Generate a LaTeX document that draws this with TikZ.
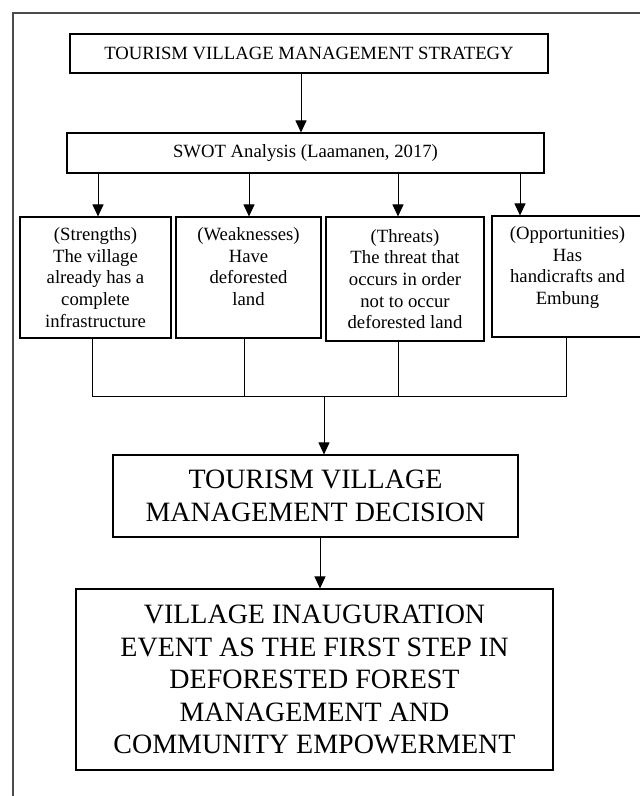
\documentclass[tikz,border=0pt]{standalone}
\usepackage{fontspec}
\setmainfont{Liberation Serif}
\usetikzlibrary{arrows.meta}
\begin{document}
\begin{tikzpicture}
[x=1pt,y=-1pt,
  boxdecorate/.style={shape=rectangle,draw,line width=1.1pt,inner sep=0pt,align=center},
  smalltext/.style={font=\fontsize{18.7}{21.6}\selectfont},
  bigtext/.style={font=\fontsize{28}{32.5}\selectfont},
  linedecorate/.style={-,line width=1pt},
  arrowdecorate/.style={-{Triangle[width=11pt,length=12pt]},line width=1pt}]
\clip (0,0) rectangle (640,796);
%% outer frame
\draw[line width=1.3pt,black!70] (13,800) -- (13,13) -- (645,13);
%% nodes or boxes
\node (strategy) at (309,53.5) [boxdecorate,smalltext,minimum width=478pt,minimum height=39pt]
  {TOURISM VILLAGE MANAGEMENT STRATEGY};
\node (swot) at (305.5,153) [boxdecorate,smalltext,minimum width=477pt,minimum height=40pt]
  {SWOT Analysis (Laamanen, 2017)};
\foreach \nodename/\x/\y/\w/\h/\txt in {
  str/95.5/277.5/151/121/{(Strengths)\\The village\\already has a\\complete\\infrastructure},
  wea/248.5/277.5/145/121/{(Weaknesses)\\Have\\deforested\\land\\~},
  thr/405/279/158/124/{(Threats)\\The threat that\\occurs in order\\not to occur\\deforested land},
  opp/567.5/276.5/151/121/{(Opportunities)\\Has\\handicrafts and\\Embung\\~}} {
  \node (\nodename) at (\x,\y) [boxdecorate,smalltext,minimum width=\w pt,minimum height=\h pt] {\txt};
}
\node (decision) at (315.5,496) [boxdecorate,bigtext,minimum width=405pt,minimum height=82pt]
  {TOURISM VILLAGE\\MANAGEMENT DECISION};
\node (event) at (314.5,679.5) [boxdecorate,bigtext,minimum width=477pt,minimum height=181pt]
  {VILLAGE INAUGURATION\\EVENT AS THE FIRST STEP IN\\DEFORESTED FOREST\\MANAGEMENT AND\\COMMUNITY EMPOWERMENT};
%% arrows or lines
\draw[arrowdecorate] (strategy.south -| 301,0) -- (swot.north -| 301,0);
\foreach \nodename/\x in {str/98, wea/249, thr/398, opp/520} {
  \draw[arrowdecorate] (swot.south -| \x,0) -- (\nodename.north -| \x,0);
}
\coordinate (joinleft) at (92,396);
\coordinate (joinright) at (566,396);
\coordinate (join) at (324,396);
\foreach \nodename/\x in {str/92, wea/244, thr/398, opp/566} {
  \draw[linedecorate] (\nodename.south -| \x,0) -- (\x,396);
}
\draw[linedecorate,line cap=rect] (joinleft) -- (joinright);
\draw[arrowdecorate] (join) -- (join |- decision.north);
\draw[arrowdecorate] (decision.south -| 320,0) -- (event.north -| 320,0);
\end{tikzpicture}
\end{document}
